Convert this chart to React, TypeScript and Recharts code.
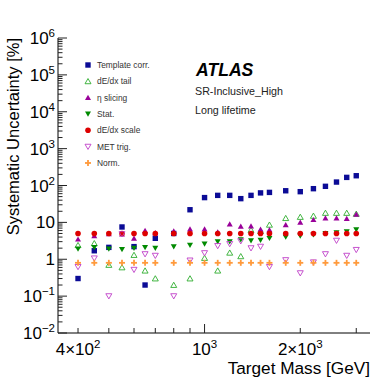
import { ScatterChart, Scatter, XAxis, YAxis, Legend } from 'recharts';

const masses = [400, 450, 500, 550, 600, 650, 700, 800, 900, 1000, 1100, 1200, 1300, 1400, 1500, 1600, 1800, 2000, 2200, 2400, 2600, 2800, 3000];

const templateCorr = [0.3, 1.7, 2.1, 7.5, 2.2, 0.2, 3.7, 5, 22, 47, 54, 54, 44, 54, 63, 65, 72, 68, 82, 95, 124, 166, 184];
const dedxTail = [2.4, 2.7, 0.7, 0.6, 1.3, 0.49, 0.3, 0.2, 0.3, 1.08, 0.49, 1.5, 1.2, 6.2, 5.8, 8.6, 13, 14, 15, 18, 18, 18, 17];
const etaSlicing = [3.5, 4.3, 4.9, 4.8, 3.7, 6.0, 5.2, 5.8, 6.6, 6.6, 5.5, 9.0, 7.8, 7.9, 6.5, 6.3, 8.6, 10, 11.8, 13, 13, 12.7, 16.5];
const stat = [1.9, 2.1, 1.9, 1.85, 2.0, 2.1, 2.0, 2.2, 2.4, 2.6, 3.0, 3.0, 3.4, 3.2, 3.3, 3.7, 4.0, 4.3, 4.6, 5.0, 5.3, 5.6, 6.3];
const dedxScale = [5, 5, 5, 5, 5, 5, 5, 5, 5, 5, 5, 5, 5, 5, 5, 5, 5, 5, 5, 5, 5, 5, 5];
const metTrig = [0.62, 1.06, 0.1, 4.8, 0.52, 1.38, 1.25, 0.1, 0.93, 1.47, 2.3, 2.6, 3.1, 2.0, 2.2, 0.62, 0.95, 0.42, 0.83, 1.38, 3.2, 1.25, 1.8];
const norm = [0.8, 0.8, 0.8, 0.8, 0.8, 0.8, 0.8, 0.8, 0.8, 0.8, 0.8, 0.8, 0.8, 0.8, 0.8, 0.8, 0.8, 0.8, 0.8, 0.8, 0.8, 0.8, 0.8];

const xTicks = [400, 500, 600, 700, 800, 900, 1000, 2000, 3000];
const xLabels: Record<number, [string, string]> = { 400: ['4×10', '2'], 1000: ['10', '3'], 2000: ['2×10', '3'] };

const yExponents = [-2, -1, 0, 1, 2, 3, 4, 5, 6];
const yTicks: number[] = [];
yExponents.forEach((e) => {
  yTicks.push(Math.pow(10, e));
  if (e < 6) for (let m = 2; m <= 9; m++) yTicks.push(m * Math.pow(10, e));
});

type Kind = 'square' | 'openUp' | 'up' | 'down' | 'circle' | 'openDown' | 'plus';

const series: { name: string; values: number[]; kind: Kind; color: string }[] = [
  { name: 'Template corr.', values: templateCorr, kind: 'square', color: '#0b0b96' },
  { name: 'dE/dx tail', values: dedxTail, kind: 'openUp', color: '#2fae2f' },
  { name: 'η slicing', values: etaSlicing, kind: 'up', color: '#990099' },
  { name: 'Stat.', values: stat, kind: 'down', color: '#008a00' },
  { name: 'dE/dx scale', values: dedxScale, kind: 'circle', color: '#dd0000' },
  { name: 'MET trig.', values: metTrig, kind: 'openDown', color: '#c040c8' },
  { name: 'Norm.', values: norm, kind: 'plus', color: '#ff9a3c' },
];

function Marker({ kind, color, cx, cy }: { kind: Kind; color: string; cx: number; cy: number }) {
  if (cx == null || cy == null || isNaN(cx) || isNaN(cy)) return null;
  switch (kind) {
    case 'square':
      return <rect x={cx - 2.7} y={cy - 2.7} width={5.4} height={5.4} fill={color} />;
    case 'circle':
      return <circle cx={cx} cy={cy} r={2.8} fill={color} />;
    case 'up':
      return <polygon points={`${cx - 3},${cy + 2.4} ${cx + 3},${cy + 2.4} ${cx},${cy - 2.8}`} fill={color} />;
    case 'openUp':
      return <polygon points={`${cx - 3},${cy + 2.4} ${cx + 3},${cy + 2.4} ${cx},${cy - 2.8}`} fill="none" stroke={color} strokeWidth={0.9} />;
    case 'down':
      return <polygon points={`${cx - 3},${cy - 2.4} ${cx + 3},${cy - 2.4} ${cx},${cy + 2.8}`} fill={color} />;
    case 'openDown':
      return <polygon points={`${cx - 3},${cy - 2.4} ${cx + 3},${cy - 2.4} ${cx},${cy + 2.8}`} fill="none" stroke={color} strokeWidth={0.9} />;
    case 'plus':
      return (
        <g stroke={color} strokeWidth={1.8}>
          <line x1={cx - 3} x2={cx + 3} y1={cy} y2={cy} />
          <line x1={cx} x2={cx} y1={cy - 3} y2={cy + 3} />
        </g>
      );
  }
  return null;
}

const isDecade = (v: number) => Math.abs(Math.log10(v) - Math.round(Math.log10(v))) < 1e-9;
const FONT = '"Liberation Sans", Arial, Helvetica, sans-serif';

function yLabel(v: number): [string, string] {
  const e = Math.round(Math.log10(v));
  if (e === 0) return ['1', ''];
  if (e === 1) return ['10', ''];
  return ['10', e < 0 ? `−${-e}` : `${e}`];
}

const LeftTick = (p: any) => {
  const v = p.payload.value;
  const major = isDecade(v);
  const [base, sup] = yLabel(v);
  return (
    <g>
      <line x1={p.x} x2={p.x + (major ? 9 : 4.5)} y1={p.y} y2={p.y} stroke="#222" />
      {major && (
        <text x={55} y={p.y + 6} textAnchor="end" fontFamily={FONT} fontSize={17} fill="#000">
          {base}
          {sup && <tspan dy={-7} fontSize={11.5}>{sup}</tspan>}
        </text>
      )}
    </g>
  );
};

const RightTick = (p: any) => {
  const major = isDecade(p.payload.value);
  return <line x1={p.x} x2={p.x - (major ? 9 : 4.5)} y1={p.y} y2={p.y} stroke="#222" />;
};

const BottomTick = (p: any) => {
  const v = p.payload.value;
  const major = v === 1000;
  const lab = xLabels[v];
  return (
    <g>
      <line x1={p.x} x2={p.x} y1={p.y} y2={p.y - (major ? 9 : 5)} stroke="#222" />
      {lab && (
        <text x={p.x} y={p.y + 22} textAnchor="middle" fontFamily={FONT} fontSize={17} fill="#000">
          {lab[0]}
          <tspan dy={-7} fontSize={11.5}>{lab[1]}</tspan>
        </text>
      )}
    </g>
  );
};

const TopTick = (p: any) => {
  const major = p.payload.value === 1000;
  return <line x1={p.x} x2={p.x} y1={p.y} y2={p.y + (major ? 9 : 5)} stroke="#222" />;
};

const LegendBox = () => (
  <svg width={100} height={120} style={{ display: 'block' }}>
    {series.map((s, i) => {
      const cy = 8 + i * 16.33;
      return (
        <g key={s.name}>
          <Marker kind={s.kind} color={s.color} cx={8} cy={cy} />
          <text x={17} y={cy + 3} fontFamily={FONT} fontSize={8.4} fill="#333">{s.name}</text>
        </g>
      );
    })}
  </svg>
);

export default function App() {
  return (
    <div style={{ position: 'absolute', left: 0, top: 0, width: 390, height: 379, background: '#fff' }}>
      <ScatterChart width={390} height={379} margin={{ top: 38, right: 20, bottom: 0, left: 0 }}>
        <XAxis
          xAxisId="b"
          dataKey="x"
          type="number"
          scale="log"
          domain={[346, 3314]}
          allowDataOverflow
          ticks={xTicks}
          interval={0}
          tickSize={0}
          tickMargin={0}
          tick={BottomTick}
          height={46}
          axisLine={{ stroke: '#000' }}
        />
        <XAxis
          xAxisId="t"
          orientation="top"
          dataKey="x"
          type="number"
          scale="log"
          domain={[346, 3314]}
          allowDataOverflow
          ticks={xTicks}
          interval={0}
          tickSize={0}
          tickMargin={0}
          tick={TopTick}
          height={0}
          axisLine={{ stroke: '#000' }}
        />
        <YAxis
          yAxisId="l"
          dataKey="y"
          type="number"
          scale="log"
          domain={[0.01, 1e6]}
          allowDataOverflow
          ticks={yTicks}
          interval={0}
          tickSize={0}
          tickMargin={0}
          tick={LeftTick}
          width={58}
          axisLine={{ stroke: '#000' }}
        />
        <YAxis
          yAxisId="r"
          orientation="right"
          dataKey="y"
          type="number"
          scale="log"
          domain={[0.01, 1e6]}
          allowDataOverflow
          ticks={yTicks}
          interval={0}
          tickSize={0}
          tickMargin={0}
          tick={RightTick}
          width={0}
          axisLine={{ stroke: '#000' }}
        />
        {series.map((s) => (
          <Scatter
            key={s.name}
            name={s.name}
            xAxisId="b"
            yAxisId="l"
            data={masses.map((m, i) => ({ x: m, y: s.values[i] }))}
            isAnimationActive={false}
            shape={(props: any) => <Marker kind={s.kind} color={s.color} cx={props.cx} cy={props.cy} />}
          />
        ))}
        <Legend
          layout="vertical"
          align="center"
          verticalAlign="middle"
          content={LegendBox}
          wrapperStyle={{ position: 'absolute', left: 80, top: 57, width: 100, height: 120 }}
        />
      </ScatterChart>
      <svg width={390} height={379} style={{ position: 'absolute', left: 0, top: 0, pointerEvents: 'none' }}>
        <text x={196} y={76} fontFamily={FONT} fontSize={17.6} fontWeight="bold" fontStyle="italic" fill="#000">ATLAS</text>
        <text x={195} y={94.5} fontFamily={FONT} fontSize={10.7} fill="#222">SR-Inclusive_High</text>
        <text x={195} y={113.5} fontFamily={FONT} fontSize={10.7} fill="#222">Long lifetime</text>
        <text x={370} y={374} textAnchor="end" fontFamily={FONT} fontSize={17.2} fill="#000">Target Mass [GeV]</text>
        <text transform="translate(19,38) rotate(-90)" textAnchor="end" fontFamily={FONT} fontSize={16.5} fill="#000">Systematic Uncertainty [%]</text>
      </svg>
    </div>
  );
}
